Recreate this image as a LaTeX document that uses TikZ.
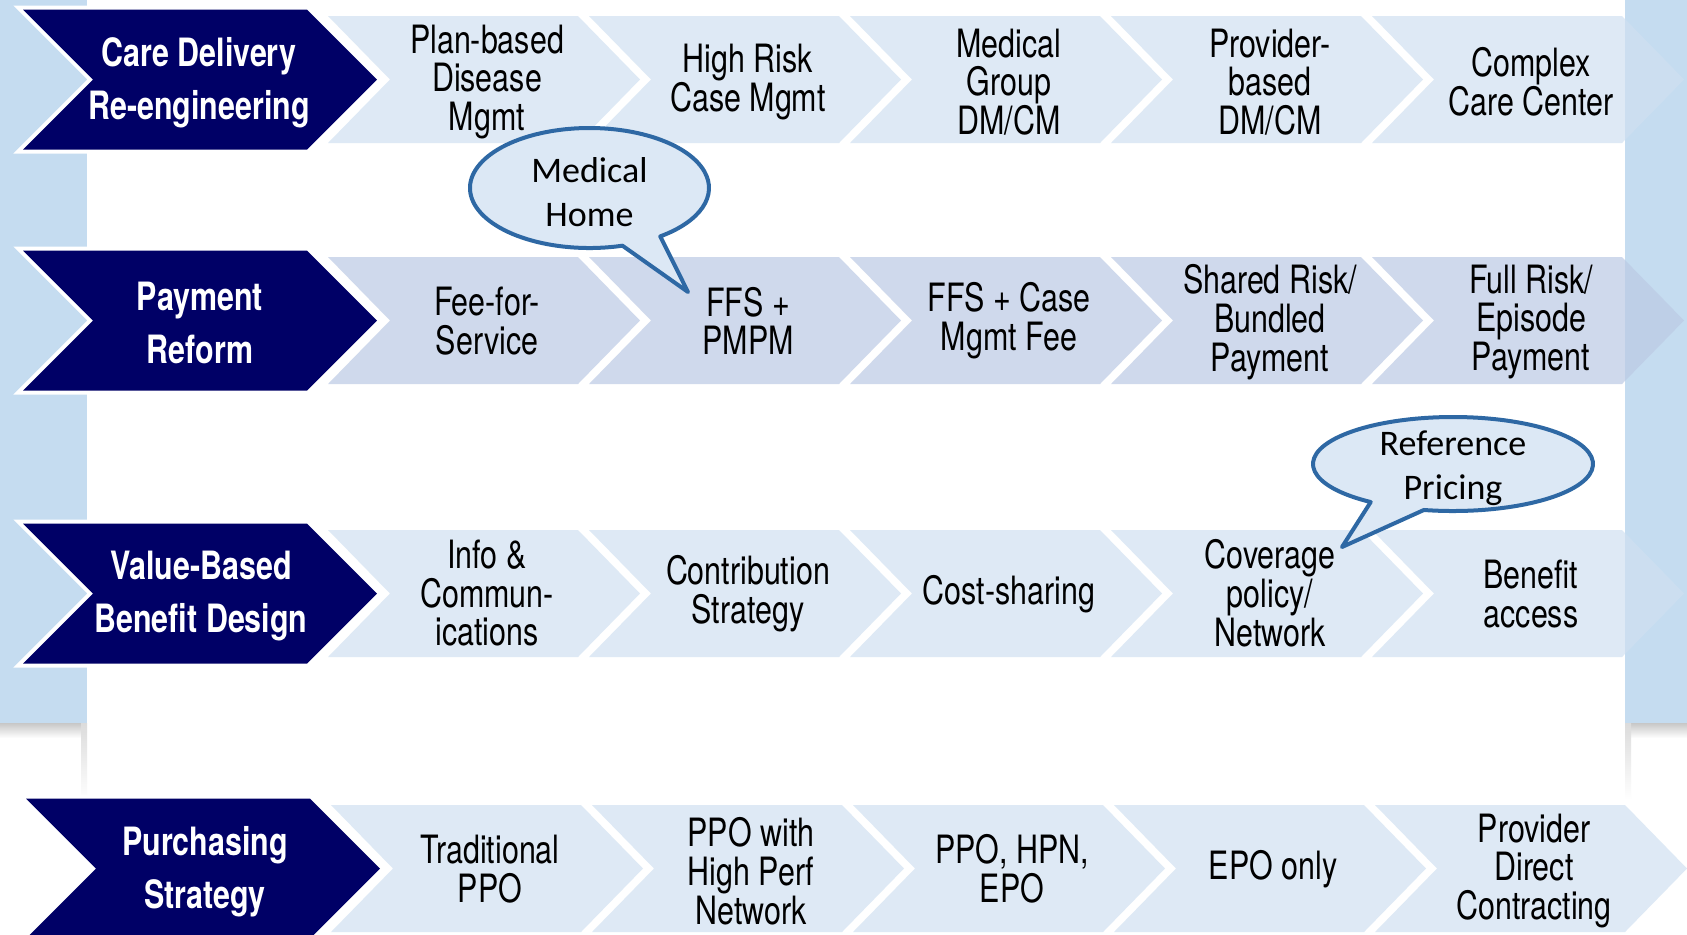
\documentclass[tikz,border=0pt]{standalone}
\usepackage{fontspec}
\setmainfont{TeX Gyre Heros}[FakeStretch=0.78]
\newfontfamily\bubblefont{Carlito}
\usepackage{xcolor}
\usepackage{tikz}

\definecolor{slide}{RGB}{197,220,240}
\definecolor{navy}{RGB}{0,0,102}
\definecolor{lite}{RGB}{208,224,241}
\definecolor{liter}{RGB}{188,202,228}
\definecolor{bubblefill}{RGB}{220,232,245}
\definecolor{bubbleline}{RGB}{46,104,164}

\begin{document}
\begin{tikzpicture}[x=0.5pt,y=-0.5pt,
  head/.style={fill=navy,preaction={draw=white,line width=4pt}},
  headtxt/.style={text=white,align=center,font=\bfseries\fontsize{19.5}{26.5}\selectfont},
  stage/.style={fill opacity=0.7},
  stagetxt/.style={align=center,font=\fontsize{19.5}{19.4}\selectfont},
  bubble/.style={fill=bubblefill,draw=bubbleline,line width=2pt,line join=round},
  bubbletxt/.style={align=center,font=\bubblefont\fontsize{18}{22}\selectfont}]

    % Slide and white page
    \useasboundingbox (0,0) rectangle (1687,934);
    \fill[white] (0,0) rectangle (1687,934);
    \fill[slide] (0,0) rectangle (1687,723);
    \shade[top color=black!22,bottom color=white] (0,723) rectangle (1687,738);
    \fill[white] (87,0) rectangle (1625,934);
    \shade[top color=black!14,bottom color=white] (81,723) rectangle (87,800);
    \shade[top color=black!14,bottom color=white] (1625,723) rectangle (1631,800);

    % Steps of each row
    \foreach \y/\dx/\col in {16/0/lite,257/0/liter,530/0/lite,805/3/lite}
      \foreach \x in {328,589,850,1111,1372}
        \fill[\col,stage] (\x+\dx,\y) -- ++(250,0) -- ++(62,63.5) -- ++(-62,63.5)
          -- ++(-250,0) -- ++(62,-63.5) -- cycle;

    % Row heads
    \foreach \y/\dx in {79.5/0,320.5/0,593.5/0,868.5/3}
      \fill[head] (23+\dx,\y-70) -- ++(284,0) -- ++(70,70) -- ++(-70,70)
        -- ++(-284,0) -- ++(70,-70) -- cycle;

    \node [headtxt] at (199,83) (care) {Care Delivery\\Re-engineering};
    \node [headtxt] at (200,323) (pay) {Payment\\Reform};
    \node [headtxt] at (201,596) (value) {Value-Based\\Benefit Design};
    \node [headtxt] at (205,872) (buy) {Purchasing\\Strategy};

    % Care delivery
    \node [stagetxt] at (487,82) (c1) {Plan-based\\Disease\\Mgmt};
    \node [stagetxt] at (748,82) (c2) {High Risk\\Case Mgmt};
    \node [stagetxt] at (1009,82) (c3) {Medical\\Group\\DM/CM};
    \node [stagetxt] at (1270,82) (c4) {Provider-\\based\\DM/CM};
    \node [stagetxt] at (1531,82) (c5) {Complex\\Care Center};

    % Payment
    \node [stagetxt] at (487,321) (p1) {Fee-for-\\Service};
    \node [stagetxt] at (748,321) (p2) {FFS +\\PMPM};
    \node [stagetxt] at (1009,321) (p3) {FFS + Case\\Mgmt Fee};
    \node [stagetxt] at (1270,322) (p4) {Shared Risk/\\Bundled\\Payment};
    \node [stagetxt] at (1531,322) (p5) {Full Risk/\\Episode\\Payment};

    % Benefit design
    \node [stagetxt] at (487,593) (v1) {Info \&\\Commun-\\ications};
    \node [stagetxt] at (748,594) (v2) {Contribution\\Strategy};
    \node [stagetxt] at (1009,594) (v3) {Cost-sharing};
    \node [stagetxt] at (1270,593) (v4) {Coverage\\policy/\\Network};
    \node [stagetxt] at (1531,594) (v5) {Benefit\\access};

    % Purchasing
    \node [stagetxt] at (490,869) (s1) {Traditional\\PPO};
    \node [stagetxt] at (751,871) (s2) {PPO with\\High Perf\\Network};
    \node [stagetxt] at (1012,869) (s3) {PPO, HPN,\\EPO};
    \node [stagetxt] at (1273,869) (s4) {EPO only};
    \node [stagetxt] at (1534,871) (s5) {Provider\\Direct\\Contracting};

    % Call-outs
    \filldraw[bubble] (589.5,188) ++(74:119.5 and 60)
      arc[start angle=74,end angle=413.7,x radius=119.5,y radius=60] -- (688,292) -- cycle;
    \node [bubbletxt] at (589.5,192) (home) {Medical\\Home};
    \filldraw[bubble] (1453,464) ++(126:140 and 47)
      arc[start angle=126,end angle=462,x radius=140,y radius=47] -- (1342,547) -- cycle;
    \node [bubbletxt] at (1453,468) (price) {Reference\\Pricing};

\end{tikzpicture}
\end{document}
